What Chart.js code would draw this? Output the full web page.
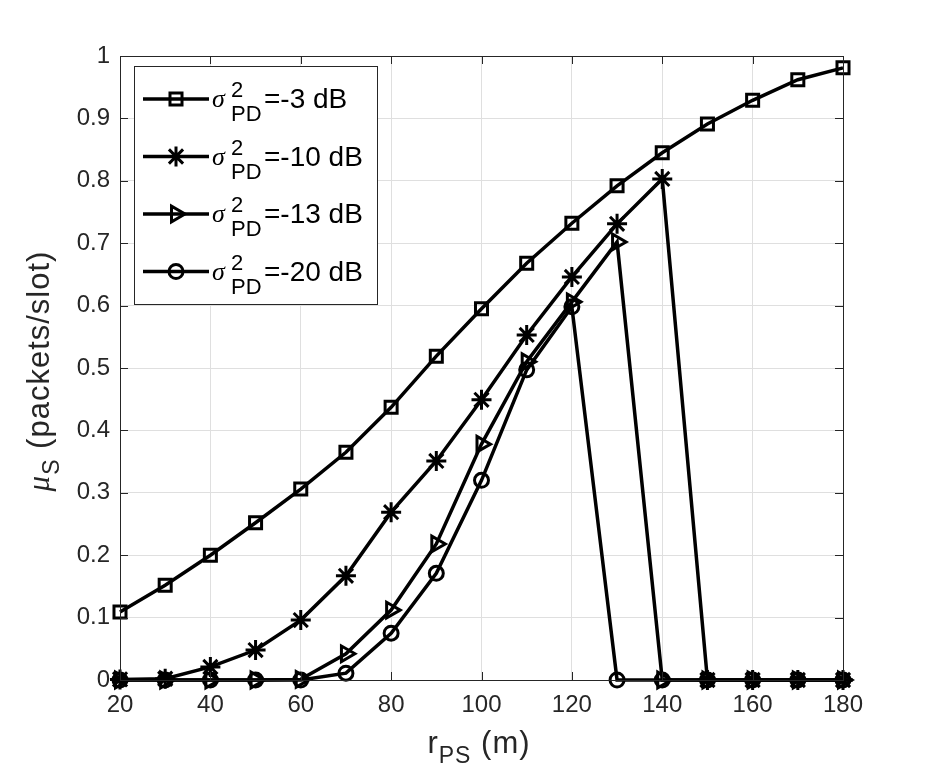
<!DOCTYPE html>
<html>
<head>
<meta charset="utf-8">
<script src="https://cdn.jsdelivr.net/npm/chart.js@4.4.1/dist/chart.umd.min.js"></script>
<style>
html, body { margin: 0; padding: 0; background: #fff; }
</style>
</head>
<body>
<canvas id="chart" width="932" height="780"></canvas>
<script>
// data
const rps = [20, 30, 40, 50, 60, 70, 80, 90, 100, 110, 120, 130, 140, 150, 160, 170, 180];
const mu3 = [0.109, 0.152, 0.200, 0.252, 0.306, 0.365, 0.437, 0.519, 0.595, 0.668, 0.732, 0.792, 0.845, 0.891, 0.929, 0.962, 0.981];
const mu10 = [0.001, 0.002, 0.021, 0.048, 0.096, 0.167, 0.269, 0.351, 0.449, 0.553, 0.646, 0.731, 0.803, 0, 0, 0, 0];
const mu13 = [0, 0, 0, 0, 0.001, 0.042, 0.112, 0.218, 0.378, 0.510, 0.606, 0.702, 0, 0, 0, 0, 0];
const mu20 = [0, 0, 0, 0, 0, 0.011, 0.075, 0.171, 0.320, 0.497, 0.598, 0, 0, 0, 0, 0, 0];
const xTicks = [20, 40, 60, 80, 100, 120, 140, 160, 180];
const yTicks = [0, 0.1, 0.2, 0.3, 0.4, 0.5, 0.6, 0.7, 0.8, 0.9, 1];
const legendLabels = ['=-3 dB', '=-10 dB', '=-13 dB', '=-20 dB'];

const FONT = '"Liberation Sans", Arial, Helvetica, sans-serif';
const AXIS = '#262626';

function pts(ys) {
    return rps.map((x, i) => ({ x: x, y: ys[i] }));
}

function series(ys, style, r, rot) {
    return {
        data: pts(ys),
        borderColor: '#000',
        borderWidth: 3.5,
        pointStyle: style,
        pointRadius: r,
        pointRotation: rot || 0,
        pointBorderWidth: 3,
        pointBorderColor: '#000',
        pointBackgroundColor: 'rgba(0,0,0,0)',
        tension: 0,
        clip: false
    };
}

//inward ticks + box, like matlab
const boxPlugin = {
    id: 'box',
    afterDatasetsDraw(chart) {
        const ctx = chart.ctx;
        const a = chart.chartArea;
        const xs = chart.scales.x, ys = chart.scales.y;
        ctx.save();
        ctx.strokeStyle = AXIS;
        ctx.lineWidth = 1;
        ctx.beginPath();
        xTicks.forEach(v => {
            const px = Math.round(xs.getPixelForValue(v)) + 0.5;
            ctx.moveTo(px, a.bottom); ctx.lineTo(px, a.bottom - 8);
            ctx.moveTo(px, a.top); ctx.lineTo(px, a.top + 8);
        });
        yTicks.forEach(v => {
            const py = Math.round(ys.getPixelForValue(v)) + 0.5;
            ctx.moveTo(a.left, py); ctx.lineTo(a.left + 8, py);
            ctx.moveTo(a.right, py); ctx.lineTo(a.right - 8, py);
        });
        ctx.stroke();
        ctx.strokeRect(Math.round(a.left) + 0.5, Math.round(a.top) + 0.5, Math.round(a.right - a.left), Math.round(a.bottom - a.top));
        ctx.restore();
    }
};

// axis titles with subscripts
const titlePlugin = {
    id: 'titles',
    afterDraw(chart) {
        const ctx = chart.ctx;
        ctx.save();
        ctx.fillStyle = AXIS;
        ctx.textBaseline = 'alphabetic';
        ctx.textAlign = 'left';
        ctx.letterSpacing = '1px';

        // x title: r_PS (m)
        const big = '31px ' + FONT, small = '23px ' + FONT;
        ctx.font = big; const wr = ctx.measureText('r').width;
        const wm = ctx.measureText(' (m)').width;
        ctx.font = small; const wps = ctx.measureText('PS').width;
        let x0 = 479 - (wr + wps + wm) / 2;
        const by = 753;
        ctx.font = big; ctx.fillText('r', x0, by);
        ctx.font = small; ctx.fillText('PS', x0 + wr, by + 10);
        ctx.font = big; ctx.fillText(' (m)', x0 + wr + wps, by);

        // y title: mu_S (packets/slot)
        ctx.translate(49, 371);
        ctx.rotate(-Math.PI / 2);
        const mu = 'italic 31px "Liberation Serif", "DejaVu Serif", serif';
        ctx.font = mu; const wmu = ctx.measureText('\u03bc').width;
        ctx.font = small; const ws = ctx.measureText('S').width;
        ctx.font = big; const wp = ctx.measureText(' (packets/slot)').width;
        let s0 = -(wmu + ws + wp) / 2;
        ctx.font = mu; ctx.fillText('\u03bc', s0, 0);
        ctx.font = small; ctx.fillText('S', s0 + wmu, 10);
        ctx.font = big; ctx.fillText(' (packets/slot)', s0 + wmu + ws, 0);
        ctx.restore();
    }
};

const legendPlugin = {
    id: 'mlegend',
    afterDraw(chart) {
        const ctx = chart.ctx;
        ctx.save();
        ctx.fillStyle = '#fff';
        ctx.fillRect(134, 66, 243, 238);
        ctx.strokeStyle = AXIS;
        ctx.lineWidth = 1;
        ctx.strokeRect(134.5, 66.5, 243, 238);
        chart.data.datasets.forEach((ds, i) => {
            const y = 99 + i * 57.5;
            ctx.strokeStyle = '#000';
            ctx.lineWidth = 3.5;
            ctx.beginPath(); ctx.moveTo(143, y); ctx.lineTo(209, y); ctx.stroke();
            ctx.lineWidth = ds.pointBorderWidth;
            ctx.fillStyle = 'rgba(0,0,0,0)';
            Chart.helpers.drawPoint(ctx, {
                pointStyle: ds.pointStyle,
                rotation: ds.pointRotation,
                radius: ds.pointRadius,
                borderWidth: ds.pointBorderWidth
            }, 176, y);

            ctx.fillStyle = '#000';
            ctx.textAlign = 'left';
            ctx.textBaseline = 'alphabetic';
            ctx.font = 'italic 26px "Liberation Serif", "DejaVu Serif", serif';
            ctx.fillText('\u03c3', 212, y + 8);
            ctx.font = '22px ' + FONT;
            ctx.fillText('2', 231, y - 2);
            ctx.fillText('PD', 231, y + 22);
            ctx.font = '28px ' + FONT;
            ctx.fillText(legendLabels[i], 264, y + 9);
        });
        ctx.restore();
    }
};

new Chart(document.getElementById('chart'), {
    type: 'line',
    data: {
        datasets: [
            series(mu3, 'rect', 8.5),
            series(mu10, 'star', 10),
            series(mu13, 'triangle', 9, 90),
            series(mu20, 'circle', 7)
        ]
    },
    options: {
        responsive: false,
        animation: false,
        layout: { padding: { top: 56, right: 89, left: 0, bottom: 0 } },
        plugins: { legend: { display: false }, tooltip: { enabled: false } },
        scales: {
            x: {
                type: 'linear',
                min: 20, max: 180,
                afterFit(s) { s.height = 100; },
                afterBuildTicks(s) { s.ticks = xTicks.map(v => ({ value: v })); },
                grid: { color: '#dfdfdf', lineWidth: 1, drawTicks: false },
                border: { display: false },
                ticks: { color: AXIS, font: { family: FONT, size: 24 }, padding: 11, maxRotation: 0 }
            },
            y: {
                type: 'linear',
                min: 0, max: 1,
                afterFit(s) { s.width = 120; },
                afterBuildTicks(s) { s.ticks = yTicks.map(v => ({ value: v })); },
                grid: { color: '#dfdfdf', lineWidth: 1, drawTicks: false },
                border: { display: false },
                ticks: { color: AXIS, font: { family: FONT, size: 24 }, padding: 10,
                    callback: v => String(Math.round(v * 10) / 10) }
            }
        }
    },
    plugins: [boxPlugin, titlePlugin, legendPlugin]
});
</script>
</body>
</html>
